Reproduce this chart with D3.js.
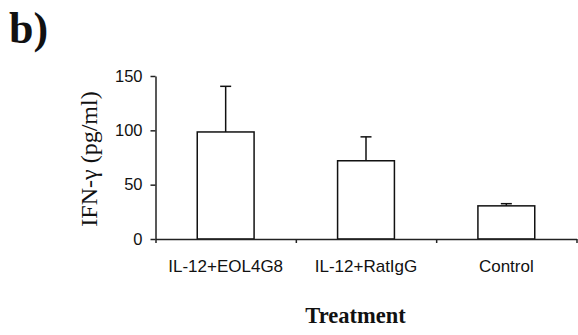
<!DOCTYPE html>
<html>
<head>
<meta charset="utf-8">
<script src="https://cdn.jsdelivr.net/npm/d3@7"></script>
<style>
  body { margin: 0; background: #fff; }
  svg { display: block; }
</style>
</head>
<body>
<svg id="chart" width="578" height="335"></svg>
<script>
// data
const categories = ["IL-12+EOL4G8", "IL-12+RatIgG", "Control"];
const means = [98.5, 72, 30.5];
const errors = [42, 22, 2];
const yTicks = [0, 50, 100, 150];

const margin = {top: 76, right: 1.5, bottom: 96, left: 155.5};
const width = 578, height = 335;

const svg = d3.select("#chart");

const x = d3.scaleBand()
    .domain(categories)
    .range([margin.left, width - margin.right])
    .padding(0);

// boundaries for the category tick marks
const xEdge = d3.scaleLinear()
    .domain([0, categories.length])
    .range([margin.left, width - margin.right]);

const y = d3.scaleLinear()
    .domain([0, 150])
    .range([height - margin.bottom, margin.top]);

const barW = x.bandwidth() * 0.405;

// bars
svg.append("g")
    .selectAll("rect")
    .data(categories)
    .enter().append("rect")
        .attr("x", d => x(d) + (x.bandwidth() - barW) / 2)
        .attr("y", (d, i) => y(means[i]))
        .attr("width", barW)
        .attr("height", (d, i) => y(0) - y(means[i]))
        .attr("fill", "#fff")
        .attr("stroke", "#111")
        .attr("stroke-width", 1.5);

// error bars (upper only)
const err = svg.append("g").attr("stroke", "#111").attr("stroke-width", 1.5);
categories.forEach((c, i) => {
    const cx = x(c) + x.bandwidth() / 2;
    err.append("line")
        .attr("x1", cx).attr("x2", cx)
        .attr("y1", y(means[i])).attr("y2", y(means[i] + errors[i]));
    err.append("line")
        .attr("x1", cx - 5.5).attr("x2", cx + 5.5)
        .attr("y1", y(means[i] + errors[i])).attr("y2", y(means[i] + errors[i]));
});

// y axis
const yAxis = svg.append("g")
    .attr("transform", `translate(${margin.left},0)`)
    .call(d3.axisLeft(y).tickValues(yTicks).tickSize(5).tickPadding(8).tickSizeOuter(0));
yAxis.selectAll("text")
    .style("font", "16.5px Arial, 'Liberation Sans', sans-serif")
    .attr("fill", "#111");

// x axis with ticks at category boundaries
const xAxis = svg.append("g")
    .attr("transform", `translate(0,${y(0)})`)
    .call(d3.axisBottom(xEdge).tickValues(d3.range(categories.length + 1)).tickFormat("").tickSize(4).tickSizeOuter(0));

svg.selectAll(".domain, .tick line").attr("stroke", "#222").attr("stroke-width", 1.5);

// category labels
svg.append("g")
    .attr("text-anchor", "middle")
    .style("font", "17px Arial, 'Liberation Sans', sans-serif")
    .attr("fill", "#111")
    .selectAll("text")
    .data(categories)
    .enter().append("text")
        .attr("x", d => x(d) + x.bandwidth() / 2)
        .attr("y", 272)
        .text(d => d);

// axis titles
svg.append("text")
    .attr("transform", "translate(97,159) rotate(-90)")
    .attr("text-anchor", "middle")
    .style("font", "24px 'Times New Roman', 'Liberation Serif', serif")
    .attr("fill", "#111")
    .text("IFN-\u03B3 (pg/ml)");

svg.append("text")
    .attr("x", 355.5)
    .attr("y", 323)
    .attr("text-anchor", "middle")
    .style("font", "bold 22.5px 'Times New Roman', 'Liberation Serif', serif")
    .attr("fill", "#111")
    .text("Treatment");

// panel letter
svg.append("text")
    .attr("x", 9)
    .attr("y", 43)
    .style("font", "bold 44px 'Times New Roman', 'Liberation Serif', serif")
    .attr("fill", "#111")
    .text("b)");
</script>
</body>
</html>
